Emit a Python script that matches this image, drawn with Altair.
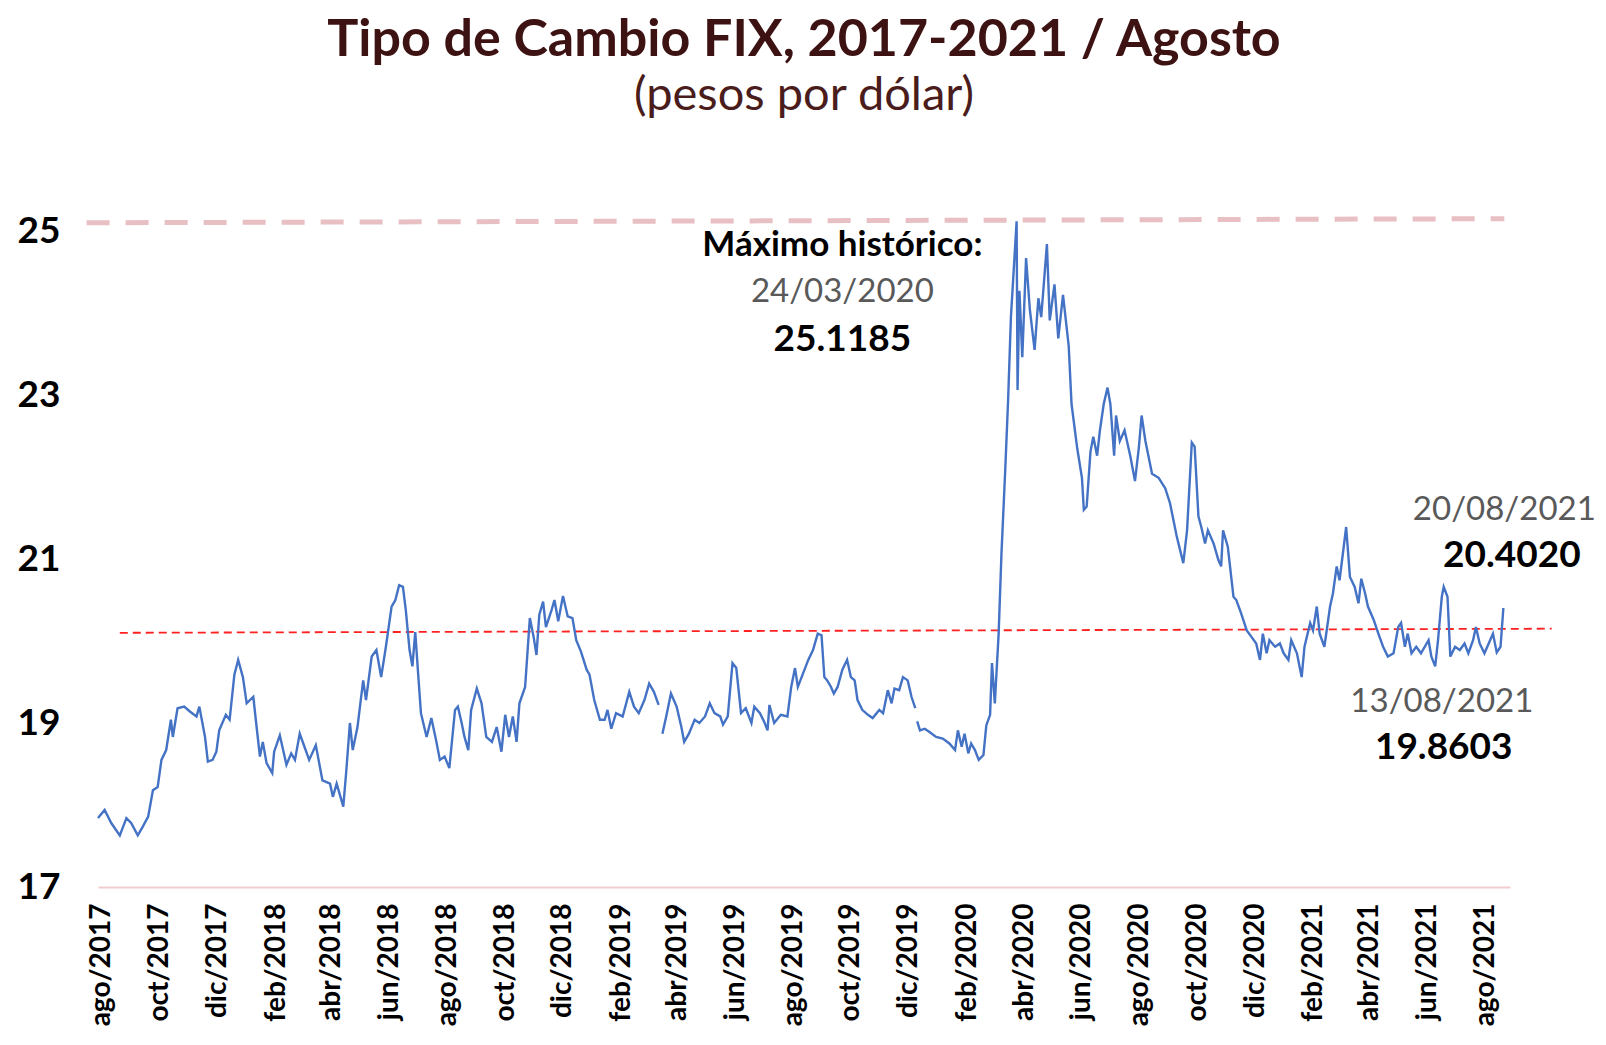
import altair as alt
import pandas as pd

# ---------------- data ----------------
fechas_1 = ["2017-07-28","2017-08-04","2017-08-11","2017-08-20","2017-08-27","2017-09-01","2017-09-08","2017-09-13","2017-09-19","2017-09-24",
            "2017-09-29","2017-10-03","2017-10-08","2017-10-13","2017-10-15","2017-10-20","2017-10-27","2017-11-02","2017-11-09","2017-11-12",
            "2017-11-18","2017-11-21","2017-11-26","2017-11-30","2017-12-03","2017-12-10","2017-12-14","2017-12-19","2017-12-23","2017-12-28",
            "2018-01-01","2018-01-08","2018-01-11","2018-01-15","2018-01-18","2018-01-22","2018-01-28","2018-01-30","2018-02-05","2018-02-12",
            "2018-02-17","2018-02-21","2018-02-26","2018-03-03","2018-03-08","2018-03-15","2018-03-22","2018-03-30","2018-04-02","2018-04-06",
            "2018-04-13","2018-04-16","2018-04-20","2018-04-23","2018-04-28","2018-05-04","2018-05-07","2018-05-13","2018-05-18","2018-05-23",
            "2018-05-28","2018-06-03","2018-06-07","2018-06-11","2018-06-15","2018-06-18","2018-06-22","2018-06-25","2018-06-28","2018-07-01",
            "2018-07-04","2018-07-10","2018-07-15","2018-07-20","2018-07-24","2018-07-29","2018-08-03","2018-08-09","2018-08-12","2018-08-16",
            "2018-08-19","2018-08-23","2018-08-26","2018-09-01","2018-09-06","2018-09-11","2018-09-17","2018-09-22","2018-09-27","2018-10-01",
            "2018-10-05","2018-10-09","2018-10-13","2018-10-16","2018-10-22","2018-10-27","2018-10-31","2018-11-03","2018-11-06","2018-11-10",
            "2018-11-13","2018-11-19","2018-11-22","2018-11-26","2018-12-01","2018-12-06","2018-12-11","2018-12-15","2018-12-20","2018-12-26",
            "2018-12-29","2019-01-03","2019-01-09","2019-01-14","2019-01-17","2019-01-21","2019-01-26","2019-02-02","2019-02-09","2019-02-14",
            "2019-02-19","2019-02-25","2019-03-02","2019-03-07","2019-03-12"]
tipo_1 = [17.84,17.94,17.78,17.63,17.84,17.78,17.63,17.73,17.86,18.18,
          18.22,18.55,18.67,19.04,18.83,19.18,19.20,19.14,19.08,19.20,
          18.83,18.53,18.55,18.65,18.91,19.10,19.04,19.59,19.77,19.56,
          19.24,19.32,19.00,18.59,18.77,18.51,18.39,18.65,18.85,18.49,
          18.63,18.55,18.87,18.71,18.55,18.73,18.30,18.26,18.10,18.26,
          17.98,18.39,19.00,18.67,18.95,19.52,19.28,19.81,19.89,19.56,
          19.93,20.42,20.50,20.68,20.66,20.38,19.89,19.69,20.11,19.61,
          19.12,18.83,19.06,18.79,18.55,18.59,18.45,19.16,19.20,19.00,
          18.83,18.67,19.16,19.42,19.24,18.83,18.77,18.95,18.65,19.10,
          18.83,19.08,18.77,19.24,19.44,20.28,20.05,19.83,20.32,20.48,
          20.17,20.38,20.50,20.24,20.55,20.30,20.28,20.01,19.87,19.65,
          19.59,19.28,19.04,19.04,19.16,18.93,19.12,19.08,19.38,19.20,
          19.12,19.28,19.48,19.38,19.22]

fechas_2 = ["2019-03-16","2019-03-20","2019-03-25","2019-03-31","2019-04-05","2019-04-08","2019-04-13","2019-04-19","2019-04-24","2019-04-30",
            "2019-05-05","2019-05-10","2019-05-16","2019-05-19","2019-05-24","2019-05-29","2019-06-02","2019-06-07","2019-06-12","2019-06-18",
            "2019-06-21","2019-06-27","2019-07-02","2019-07-05","2019-07-07","2019-07-12","2019-07-19","2019-07-26","2019-07-30","2019-08-03",
            "2019-08-06","2019-08-11","2019-08-17","2019-08-22","2019-08-27","2019-08-31","2019-09-03","2019-09-06","2019-09-10","2019-09-13",
            "2019-09-17","2019-09-22","2019-09-27","2019-10-01","2019-10-05","2019-10-08","2019-10-13","2019-10-19","2019-10-24","2019-10-31",
            "2019-11-04","2019-11-09","2019-11-13","2019-11-16","2019-11-21","2019-11-25","2019-11-30","2019-12-04","2019-12-08"]
tipo_2 = [18.87,19.08,19.36,19.20,18.95,18.77,18.87,19.04,19.00,19.08,
          19.24,19.12,19.08,18.98,19.08,19.73,19.67,19.12,19.18,19.00,
          19.20,19.12,19.00,18.91,19.22,19.00,19.10,19.08,19.44,19.67,
          19.44,19.59,19.77,19.89,20.09,20.07,19.56,19.52,19.44,19.36,
          19.44,19.65,19.77,19.56,19.52,19.28,19.16,19.10,19.06,19.16,
          19.12,19.40,19.24,19.42,19.40,19.56,19.52,19.32,19.18]

fechas_3 = ["2019-12-10","2019-12-13","2019-12-18","2019-12-23","2019-12-30","2020-01-06","2020-01-13","2020-01-19","2020-01-22","2020-01-26",
            "2020-01-29","2020-02-02","2020-02-05","2020-02-09","2020-02-13","2020-02-18","2020-02-21","2020-02-25","2020-02-27","2020-03-01",
            "2020-03-05","2020-03-08","2020-03-12","2020-03-15","2020-03-18","2020-03-24","2020-03-25","2020-03-27","2020-03-30","2020-04-03",
            "2020-04-07","2020-04-12","2020-04-16","2020-04-19","2020-04-25","2020-04-28","2020-05-03","2020-05-07","2020-05-12","2020-05-18",
            "2020-05-21","2020-05-27","2020-06-01","2020-06-03","2020-06-06","2020-06-10","2020-06-13","2020-06-17","2020-06-20","2020-06-24",
            "2020-06-28","2020-07-01","2020-07-05","2020-07-07","2020-07-11","2020-07-16","2020-07-22","2020-07-27","2020-07-31","2020-08-03",
            "2020-08-07","2020-08-14","2020-08-21","2020-08-28","2020-09-02","2020-09-09","2020-09-16","2020-09-20","2020-09-25","2020-09-28",
            "2020-10-02","2020-10-05","2020-10-09","2020-10-12","2020-10-18","2020-10-23","2020-10-26","2020-10-28","2020-11-02","2020-11-08",
            "2020-11-11","2020-11-16","2020-11-22","2020-11-27","2020-12-02","2020-12-06","2020-12-09","2020-12-13","2020-12-16","2020-12-22",
            "2020-12-27","2020-12-31","2021-01-05","2021-01-08","2021-01-14","2021-01-19","2021-01-22","2021-01-28","2021-01-31","2021-02-04",
            "2021-02-07","2021-02-12","2021-02-18","2021-02-21","2021-02-25","2021-02-28","2021-03-04","2021-03-07","2021-03-11","2021-03-16",
            "2021-03-20","2021-03-23","2021-03-27","2021-03-30","2021-04-05","2021-04-10","2021-04-15","2021-04-20","2021-04-26","2021-05-01",
            "2021-05-04","2021-05-08","2021-05-11","2021-05-15","2021-05-20","2021-05-25","2021-06-02","2021-06-05","2021-06-09","2021-06-12",
            "2021-06-16","2021-06-18","2021-06-22","2021-06-25","2021-06-30","2021-07-05","2021-07-10","2021-07-14","2021-07-19","2021-07-22",
            "2021-07-26","2021-07-31","2021-08-06","2021-08-09","2021-08-13","2021-08-17","2021-08-20"]
tipo_3 = [19.02,18.91,18.93,18.89,18.83,18.81,18.75,18.67,18.91,18.71,
          18.87,18.63,18.75,18.67,18.55,18.61,18.97,19.10,19.73,19.24,
          20.08,21.06,22.09,22.93,23.95,25.1185,23.06,24.27,23.46,24.67,
          24.04,23.55,24.18,23.95,24.84,23.91,24.35,23.69,24.22,23.60,
          22.89,22.35,21.99,21.60,21.64,22.31,22.49,22.26,22.57,22.89,
          23.09,22.89,22.26,22.75,22.44,22.57,22.26,21.95,22.35,22.75,
          22.44,22.04,21.99,21.86,21.68,21.28,20.95,21.35,22.42,22.37,
          21.52,21.39,21.19,21.35,21.19,20.99,20.91,21.35,21.15,20.54,
          20.50,20.34,20.13,20.05,19.97,19.77,20.09,19.85,20.01,19.93,
          19.97,19.85,19.77,20.01,19.85,19.56,19.93,20.22,20.13,20.42,
          20.09,19.93,20.42,20.58,20.91,20.74,21.11,21.39,20.78,20.66,
          20.46,20.76,20.58,20.42,20.26,20.09,19.93,19.81,19.85,20.17,
          20.22,19.93,20.09,19.85,19.93,19.85,20.01,19.81,19.69,20.01,
          20.54,20.66,20.54,19.81,19.93,19.89,19.97,19.85,20.01,20.17,
          19.97,19.85,20.01,20.09,19.8603,19.93,20.4020]

# reference lines
max_fechas = ["2017-07-16", "2021-08-21"]
max_valores = [25.10, 25.15]
prom_fechas = ["2017-08-20", "2021-10-10"]
prom_valores = [20.10, 20.15]

# axis ticks / labels
tick_fechas = ["2017-08-01","2017-10-01","2017-12-01","2018-02-01","2018-04-01","2018-06-01","2018-08-01",
               "2018-10-01","2018-12-01","2019-02-01","2019-04-01","2019-06-01","2019-08-01","2019-10-01",
               "2019-12-01","2020-02-01","2020-04-01","2020-06-01","2020-08-01","2020-10-01","2020-12-01",
               "2021-02-01","2021-04-01","2021-06-01","2021-08-01"]
meses = ["ene","feb","mar","abr","may","jun","jul","ago","sep","oct","nov","dic"]
y_ticks = [17, 19, 21, 23, 25]
x_dominio = ["2017-07-28", "2021-08-27"]
y_dominio = [17, 25.5]

# annotations
anot_titulo = pd.DataFrame({"fecha": ["2019-09-22"], "valor": [24.83], "texto": ["Máximo histórico:"]})
anot_fechas = pd.DataFrame({"fecha": ["2019-09-22", "2021-08-21", "2021-06-16"],
                            "valor": [24.26, 21.60, 19.26],
                            "texto": ["24/03/2020", "20/08/2021", "13/08/2021"]})
anot_valores = pd.DataFrame({"fecha": ["2019-09-22", "2021-08-29", "2021-06-18"],
                             "valor": [23.67, 21.04, 18.70],
                             "texto": ["25.1185", "20.4020", "19.8603"]})

# ---------------- build ----------------
def ms(s):
    return int(pd.Timestamp(s, tz="UTC").value // 10**6)

serie = pd.concat([
    pd.DataFrame({"fecha": fechas_1, "tipo": tipo_1, "tramo": 1}),
    pd.DataFrame({"fecha": fechas_2, "tipo": tipo_2, "tramo": 2}),
    pd.DataFrame({"fecha": fechas_3, "tipo": tipo_3, "tramo": 3}),
], ignore_index=True)

xs = alt.Scale(type="utc", domain=[ms(d) for d in x_dominio])
ys = alt.Scale(domain=y_dominio, nice=False, zero=False)

label_expr = "[" + ",".join("'%s'" % m for m in meses) + "][utcmonth(datum.value)] + '/' + utcyear(datum.value)"

FONT = "Lato"

x_axis = alt.Axis(values=[ms(d) for d in tick_fechas], labelExpr=label_expr, labelAngle=270,
                  labelAlign="right", labelBaseline="middle", labelFont=FONT, labelFontWeight="bold",
                  labelFontSize=28, labelColor="black", labelPadding=16, labelFlush=False,
                  labelOverlap=False, labelBound=False, ticks=False, tickSize=0, grid=False, domain=True,
                  domainColor="#f1cdd0", domainWidth=2, title=None)
y_axis = alt.Axis(values=y_ticks, labelFont=FONT, labelFontWeight="bold", labelFontSize=37,
                  labelColor="black", labelAlign="left", labelBaseline="middle", labelPadding=81,
                  labelFlush=False, ticks=False, tickSize=0, grid=False, domain=False, title=None)

X = lambda f: alt.X(f, scale=xs, axis=x_axis)
Y = lambda f: alt.Y(f, scale=ys, axis=y_axis)

linea = alt.Chart(serie).mark_line(color="#4472c4", strokeWidth=2.4).encode(
    x=X("fecha:T"), y=Y("tipo:Q"), detail="tramo:N",
)

maximo = alt.Chart(pd.DataFrame({"fecha": max_fechas, "valor": max_valores})).mark_line(
    color="#e8c0c4", strokeWidth=5, strokeDash=[23, 16]).encode(x=X("fecha:T"), y=Y("valor:Q"))

promedio = alt.Chart(pd.DataFrame({"fecha": prom_fechas, "valor": prom_valores})).mark_line(
    color="#ff2020", strokeWidth=1.8, strokeDash=[8, 5]).encode(x=X("fecha:T"), y=Y("valor:Q"))

def textos(df, size, weight, color):
    return alt.Chart(df).mark_text(font=FONT, fontSize=size, fontWeight=weight, color=color,
                                   align="center", baseline="middle").encode(
        x=X("fecha:T"), y=Y("valor:Q"), text="texto:N")

chart = alt.layer(
    maximo, promedio, linea,
    textos(anot_titulo, 35, "bold", "#000000"),
    textos(anot_fechas, 33, "normal", "#595959"),
    textos(anot_valores, 37, "bold", "#000000"),
).properties(
    width=1412, height=697,
    title=alt.TitleParams(text="Tipo de Cambio FIX, 2017-2021 / Agosto", subtitle="(pesos por dólar)",
                          font=FONT, fontSize=52, fontWeight="bold", color="#3d1212",
                          subtitleFont=FONT, subtitleFontSize=47, subtitleFontWeight="normal",
                          subtitleColor="#4a1c1c", anchor="middle", offset=70, subtitlePadding=6),
    autosize=alt.AutoSizeParams(type="none"),
    padding={"left": 90, "top": 182, "right": 88, "bottom": 146},
).configure(background="white", view=alt.ViewConfig(strokeWidth=0))

chart.save("out.html", embed_options={"renderer": "svg", "actions": False})
